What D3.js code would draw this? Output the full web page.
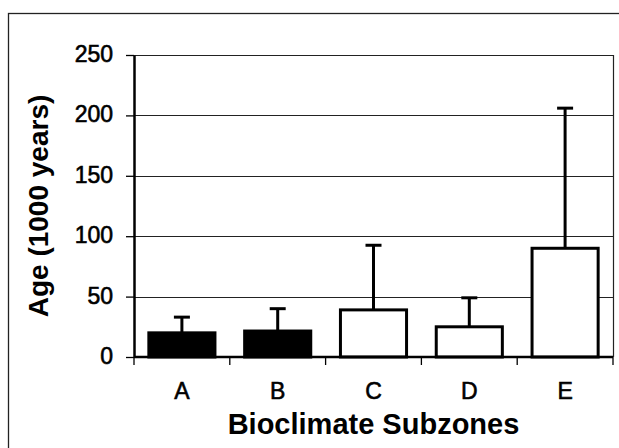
<!DOCTYPE html>
<html>
<head>
<meta charset="utf-8">
<script src="https://cdn.jsdelivr.net/npm/d3@7/dist/d3.min.js"></script>
<style>
  html, body { margin: 0; padding: 0; background: #fff; }
  svg { display: block; }
  text { font-family: "Liberation Sans", Arial, sans-serif; fill: #000; }
</style>
</head>
<body>
<svg id="chart" width="619" height="448"></svg>
<script>
const categories = ["A", "B", "C", "D", "E"];
const meanAge = [20, 21.5, 39, 25, 90];
const upperError = [33, 40, 92.5, 49, 206];
const barFill = ["#000", "#000", "#fff", "#fff", "#fff"];
const yTicks = [0, 50, 100, 150, 200, 250];

const svg = d3.select("#chart");
const plot = { left: 134, right: 613, top: 55, bottom: 357 };

const x = d3.scaleBand().domain(categories)
  .range([plot.left, plot.right]).paddingInner(0.31).paddingOuter(0.155);
const y = d3.scaleLinear().domain([0, 250]).range([plot.bottom, plot.top]);

// outer frame
svg.append("rect").attr("x", 8.5).attr("y", 13.5).attr("width", 700).attr("height", 600)
  .attr("fill", "none").attr("stroke", "#222").attr("stroke-width", 1.3);

// gridlines
svg.append("g").selectAll("line").data(yTicks.filter(d => d > 0)).join("line")
  .attr("x1", plot.left).attr("x2", plot.right)
  .attr("y1", d => Math.round(y(d)) + 0.5).attr("y2", d => Math.round(y(d)) + 0.5)
  .attr("stroke", "#222").attr("stroke-width", 1.2);

// right frame
svg.append("line").attr("x1", plot.right + 0.5).attr("x2", plot.right + 0.5)
  .attr("y1", y(250)).attr("y2", y(0)).attr("stroke", "#222").attr("stroke-width", 1.2);

// error bars
const half = 8;
const eg = svg.append("g");
categories.forEach((c, i) => {
  const cx = x(c) + x.bandwidth() / 2;
  eg.append("line").attr("x1", cx).attr("x2", cx)
    .attr("y1", y(meanAge[i])).attr("y2", y(upperError[i]))
    .attr("stroke", "#000").attr("stroke-width", 3);
  eg.append("line").attr("x1", cx - half).attr("x2", cx + half)
    .attr("y1", y(upperError[i])).attr("y2", y(upperError[i]))
    .attr("stroke", "#000").attr("stroke-width", 3);
});

// bars
svg.append("g").selectAll("rect").data(categories).join("rect")
  .attr("x", d => x(d))
  .attr("y", (d, i) => y(meanAge[i]))
  .attr("width", x.bandwidth())
  .attr("height", (d, i) => y(0) - y(meanAge[i]))
  .attr("fill", (d, i) => barFill[i])
  .attr("stroke", "#000").attr("stroke-width", 3);

// y axis
const yAxis = svg.append("g").attr("transform", `translate(${plot.left},0)`)
  .call(d3.axisLeft(y).tickValues(yTicks).tickSize(8).tickSizeOuter(0).tickPadding(13));
yAxis.select(".domain").attr("stroke", "#000").attr("stroke-width", 2.5);
yAxis.selectAll(".tick line").attr("stroke", "#000").attr("stroke-width", 1.3);
yAxis.selectAll(".tick text").attr("font-size", 23).attr("font-family", "Liberation Sans, Arial, sans-serif")
  .attr("fill", "#000").attr("stroke", "#000").attr("stroke-width", 0.6).attr("dy", "0.28em");

// x axis baseline and boundary ticks
const step = x.step();
const bounds = categories.map(c => x(c) - x.paddingInner() * step / 2).concat([plot.right]);
svg.append("line").attr("x1", plot.left).attr("x2", plot.right)
  .attr("y1", y(0)).attr("y2", y(0)).attr("stroke", "#000").attr("stroke-width", 2.5);
svg.append("g").selectAll("line").data(bounds).join("line")
  .attr("x1", d => d).attr("x2", d => d)
  .attr("y1", y(0)).attr("y2", y(0) + 8)
  .attr("stroke", "#000").attr("stroke-width", 1.3);

const xAxis = svg.append("g").attr("transform", `translate(0,${plot.bottom})`)
  .call(d3.axisBottom(x).tickSize(0).tickPadding(26));
xAxis.select(".domain").remove();
xAxis.selectAll(".tick text").attr("font-size", 23).attr("font-family", "Liberation Sans, Arial, sans-serif")
  .attr("fill", "#000").attr("stroke", "#000").attr("stroke-width", 0.6);

// titles
svg.append("text").attr("x", (plot.left + plot.right) / 2).attr("y", 434)
  .attr("text-anchor", "middle").attr("font-size", 29).attr("font-weight", "bold")
  .text("Bioclimate Subzones");
svg.append("text").attr("transform", `translate(48,${(plot.top + plot.bottom) / 2}) rotate(-90)`)
  .attr("text-anchor", "middle").attr("font-size", 28).attr("font-weight", "bold")
  .text("Age (1000 years)");
</script>
</body>
</html>
